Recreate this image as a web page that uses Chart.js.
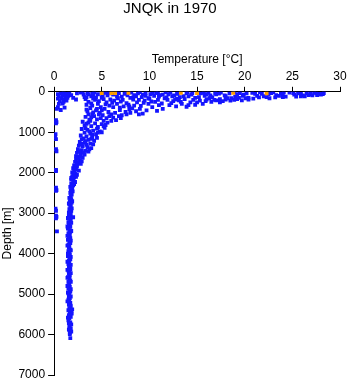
<!DOCTYPE html>
<html>
<head>
<meta charset="utf-8">
<title>JNQK in 1970</title>
<script src="https://cdn.jsdelivr.net/npm/chart.js@4.4.0/dist/chart.umd.min.js"></script>
<style>
  html, body { margin: 0; padding: 0; background: #fff; }
  #chartBox { width: 348px; height: 384px; }
</style>
</head>
<body>
<div id="chartBox"><canvas id="myChart" width="348" height="384"></canvas></div>
<script>
'use strict';

// tick labels
let tempTicks = [0, 5, 10, 15, 20, 25, 30];
let depthTicks = [0, 1000, 2000, 3000, 4000, 5000, 6000, 7000];

// [temperature degC, depth m]
let surfaceFlagged = [[5.0, 30], [6.0, 30], [6.4, 30], [7.8, 25], [13.3, 25], [15.0, 30], [18.8, 25], [22.3, 35]];

let mixedLayer = [
  [2.4, 40], [2.8, 20], [3.1, 70], [3.5, 30], [3.9, 110], [4.2, 20], [4.6, 60], [5.3, 25], [5.6, 90], [5.9, 40],
  [6.8, 30], [7.1, 120], [7.4, 50], [8.1, 20], [8.4, 80], [8.8, 40], [9.2, 130], [9.6, 25], [10.1, 60], [10.5, 100],
  [10.9, 30], [11.4, 70], [11.8, 140], [12.2, 20], [12.6, 90], [13.0, 40], [13.6, 110], [13.9, 30], [14.4, 70], [14.8, 150],
  [15.4, 40], [15.8, 100], [16.2, 25], [16.6, 130], [17.0, 60], [17.5, 20], [17.9, 90], [18.4, 40], [19.0, 120], [19.5, 30],
  [19.9, 70], [20.4, 150], [20.8, 25], [21.3, 100], [21.8, 50], [22.3, 130], [22.8, 30], [23.3, 80], [23.8, 40], [24.3, 120],
  [24.7, 20], [25.2, 70], [25.6, 40], [26.1, 90], [26.5, 30], [26.9, 60], [27.3, 20], [27.8, 50], [28.3, 30], [24.0, 60],
  [25.9, 110], [22.0, 110], [19.2, 60], [16.0, 60], [13.2, 130], [11.0, 120], [8.6, 110], [6.2, 70], [4.4, 140], [3.2, 130],
  [20.9, 170], [23.2, 140], [18.6, 160], [17.4, 180], [27.5, 40], [26.7, 80], [15.2, 130], [12.0, 60], [9.9, 160], [7.7, 90],
  [5.0, 50], [9.3, 70], [14.1, 110], [16.9, 30], [21.1, 50], [23.6, 100], [25.1, 30], [28.0, 70], [12.9, 170], [10.7, 20],
  [3.0, 10], [4.0, 45], [5.6, 15], [6.5, 45], [7.5, 15], [9.0, 10], [10.3, 40], [11.7, 15], [12.9, 50], [14.0, 10],
  [15.7, 20], [17.3, 45], [18.9, 10], [20.2, 35], [21.6, 15], [22.5, 55], [24.1, 15], [25.9, 50], [26.9, 20], [27.6, 80],
  [28.2, 55], [23.0, 10], [19.8, 100], [18.0, 110], [16.4, 90], [14.5, 40], [12.4, 110], [11.1, 80], [9.6, 100], [8.3, 140],
  [6.6, 120], [5.1, 100], [4.1, 80], [3.6, 60]
];

let upperThermocline = [
  [3.3, 180], [3.6, 250], [3.4, 320], [3.8, 400], [3.5, 480], [4.0, 550], [3.3, 620], [3.7, 690],
  [4.3, 200], [4.6, 300], [4.9, 380], [4.4, 460], [4.8, 520], [4.2, 600], [4.5, 680],
  [5.2, 180], [5.5, 260], [5.8, 340], [5.3, 420], [5.7, 500], [5.1, 580], [5.5, 650], [6.0, 720],
  [6.3, 220], [6.6, 300], [6.2, 380], [6.9, 450], [6.4, 520], [6.8, 600], [6.5, 700],
  [7.2, 200], [7.6, 280], [7.3, 360], [7.9, 430], [7.5, 500], [7.1, 580],
  [8.3, 190], [8.7, 260], [8.4, 340], [9.0, 420], [8.6, 480], [9.3, 540],
  [9.5, 220], [9.9, 300], [10.3, 380], [9.7, 460], [10.6, 250], [11.0, 330], [11.4, 420], [10.8, 470],
  [11.9, 200], [12.3, 280], [12.8, 360], [12.5, 230], [13.4, 300], [13.9, 370], [13.1, 210],
  [14.3, 260], [14.8, 320], [15.3, 220], [15.6, 300], [16.0, 190], [16.5, 250], [17.0, 210], [17.4, 260],
  [18.0, 190], [18.5, 220], [19.2, 180], [19.7, 210], [20.4, 190],
  [3.4, 140], [4.1, 170], [4.7, 230], [5.0, 150], [5.9, 190], [6.1, 270], [6.7, 160], [7.0, 240], [7.8, 320], [8.0, 150],
  [8.9, 200], [9.1, 350], [9.4, 270], [10.0, 170], [10.2, 240], [10.9, 200], [11.3, 290], [11.6, 160], [12.1, 330], [12.7, 190],
  [13.3, 250], [13.7, 180], [14.1, 330], [14.6, 200], [15.0, 260], [15.9, 230], [16.3, 160], [16.8, 200], [17.7, 230], [18.2, 160],
  [18.9, 200], [19.4, 150], [20.1, 160], [21.5, 140], [22.6, 160], [24.0, 130], [25.4, 120], [26.3, 110], [27.1, 90],
  [3.9, 290], [4.0, 340], [4.5, 420], [5.0, 460], [4.1, 510], [4.7, 560], [3.9, 630], [4.9, 650], [5.8, 600], [5.2, 720],
  [6.2, 640], [7.0, 650], [6.0, 560], [7.6, 560], [8.0, 520], [8.9, 560], [3.6, 560], [3.4, 440], [5.4, 310], [6.9, 390],
  [7.9, 360], [8.2, 410]
];

let lowerThermocline = [
  [3.0, 740], [3.6, 760], [4.3, 780], [5.0, 800], [5.6, 760], [3.2, 830], [3.9, 850], [4.6, 870], [5.3, 890],
  [2.9, 920], [3.5, 940], [4.1, 960], [4.8, 980], [3.2, 1010], [3.8, 1030], [4.4, 1050], [5.0, 1000],
  [2.8, 1080], [3.4, 1100], [4.0, 1120], [4.5, 1140], [2.9, 1170], [3.6, 1190], [4.2, 1210],
  [2.7, 1240], [3.2, 1260], [3.8, 1280], [4.1, 1300], [2.6, 1330], [3.0, 1350], [3.5, 1370], [3.9, 1390],
  [2.5, 1420], [2.9, 1440], [3.3, 1460], [3.6, 1480], [2.4, 1510], [2.8, 1530], [3.2, 1550],
  [2.3, 1590], [2.6, 1610], [3.0, 1630], [2.3, 1670], [2.7, 1690], [2.2, 1730], [2.5, 1760], [2.8, 1780],
  [2.1, 1820], [2.4, 1850], [2.0, 1890], [2.3, 1920], [2.6, 1950], [1.9, 1990], [2.2, 2020], [2.4, 2050],
  [1.9, 2090], [2.1, 2120], [1.8, 2170], [2.0, 2200], [2.2, 2230], [1.8, 2270], [2.0, 2310], [1.7, 2350],
  [1.9, 2390], [1.75, 2430], [1.95, 2460], [1.7, 2500], [1.85, 2540],
  [3.3, 900], [3.7, 980], [4.5, 910], [3.1, 1150], [3.9, 1160], [3.3, 1220], [2.9, 1290], [3.4, 1310], [3.7, 1420], [2.7, 1470],
  [3.1, 1500], [2.5, 1650], [2.8, 1600], [2.9, 1720], [2.4, 1800], [2.2, 1880], [2.1, 1960], [2.3, 2100], [2.0, 2050], [1.8, 2130],
  [2.1, 2280], [1.9, 2330], [4.0, 1060], [4.6, 1010], [5.2, 850], [5.4, 820], [3.4, 790], [3.8, 720]
];

let deepWater = [
  [1.75, 2580], [1.6, 2620], [1.8, 2660], [1.65, 2700], [1.85, 2740], [1.6, 2780], [1.75, 2820], [1.7, 2860],
  [1.6, 2900], [1.8, 2940], [1.65, 2980], [1.75, 3020], [1.55, 3060], [1.7, 3100], [2.0, 3100], [1.6, 3140],
  [1.75, 3180], [1.5, 3220], [1.65, 3260], [1.55, 3300], [1.7, 3340], [1.45, 3380], [1.6, 3420], [1.7, 3460],
  [1.5, 3500], [1.65, 3540], [1.55, 3580], [1.7, 3620], [1.45, 3660], [1.6, 3700], [1.7, 3740], [1.5, 3780],
  [1.6, 3820], [1.55, 3860], [1.7, 3900], [1.5, 3940], [1.6, 3980], [1.65, 4020], [1.45, 4060], [1.6, 4100],
  [1.7, 4140], [1.55, 4180], [1.6, 4220], [1.5, 4260], [1.65, 4300], [1.55, 4340], [1.7, 4380], [1.5, 4420],
  [1.6, 4460], [1.55, 4500], [1.65, 4540], [1.45, 4580], [1.6, 4620], [1.7, 4660], [1.5, 4700], [1.6, 4740],
  [1.55, 4780], [1.65, 4820], [1.5, 4860], [1.6, 4900], [1.7, 4940], [1.5, 4980], [1.6, 5020], [1.55, 5060],
  [1.65, 5100], [1.5, 5140], [1.6, 5180], [1.7, 5220], [1.55, 5260], [1.75, 5300], [1.6, 5350], [1.5, 5400],
  [1.8, 5420], [1.65, 5460], [1.55, 5520], [1.75, 5560], [1.6, 5600], [1.5, 5650], [1.7, 5700], [1.8, 5750],
  [1.6, 5800], [1.75, 5850], [1.55, 5880], [1.7, 5920], [1.65, 5960], [1.7, 6090],
  [1.45, 3120], [1.8, 3240], [1.4, 3330], [1.8, 3440], [1.4, 3560], [1.75, 3680], [1.4, 3800], [1.75, 3920],
  [1.45, 4000], [1.75, 4080], [1.4, 4200], [1.75, 4280], [1.4, 4400], [1.75, 4480], [1.4, 4600], [1.75, 4700],
  [1.4, 4800], [1.75, 4880], [1.45, 4960], [1.75, 5060], [1.4, 5180], [1.7, 5280], [1.85, 5480], [1.45, 5580],
  [1.65, 5760], [1.6, 5880], [1.8, 5930], [1.65, 5990], [1.9, 5380], [1.55, 5720], [1.7, 2620], [1.9, 2700],
  [1.55, 2760], [1.85, 2880], [1.55, 2990]
];

let shallowCold = [
  [0.4, 60], [0.7, 40], [1.0, 30], [1.3, 50], [1.6, 40], [0.5, 110], [0.9, 90], [1.2, 120], [1.5, 100], [1.8, 80],
  [0.4, 170], [0.8, 160], [1.1, 190], [1.4, 150], [0.6, 230], [1.0, 250], [1.3, 220], [0.5, 300], [0.9, 290],
  [0.4, 380], [1.1, 390], [0.7, 450], [0.3, 420], [2.0, 150], [2.3, 190]
];

let coldColumn = [
  [0.2, 700], [0.25, 750], [0.2, 780], [0.15, 1050], [0.1, 1120], [0.2, 1170], [0.2, 1420], [0.25, 1470],
  [0.2, 1930], [0.2, 1960], [0.2, 2370], [0.25, 2430], [0.2, 2450], [0.15, 2890], [0.2, 2940], [0.2, 3060],
  [0.25, 3090], [0.2, 3130], [0.3, 3450]
];

function toPoints(list) {
  return list.map(function (p) { return { x: p[0], y: p[1] }; });
}

let bluePoints = toPoints(mixedLayer.concat(upperThermocline, lowerThermocline, deepWater, shallowCold, coldColumn));
let orangePoints = toPoints(surfaceFlagged);

let fontFamily = "'Liberation Sans', Arial, sans-serif";

let ctx = document.getElementById('myChart').getContext('2d');
let chart = new Chart(ctx, {
  type: 'scatter',
  data: {
    datasets: [{
      label: 'flagged',
      data: orangePoints,
      backgroundColor: '#ff9f00',
      pointStyle: 'rect',
      pointRadius: 2.7,
      borderWidth: 0,
      order: 0
    }, {
      label: 'JNQK',
      data: bluePoints,
      backgroundColor: '#1414ff',
      pointStyle: 'rect',
      pointRadius: 2.7,
      borderWidth: 0,
      order: 1
    }]
  },
  options: {
    responsive: false,
    animation: false,
    layout: { padding: { left: 0, right: 8, top: 0, bottom: 9 } },
    plugins: {
      legend: { display: false },
      tooltip: { enabled: false },
      title: {
        display: true,
        text: 'JNQK in 1970',
        color: '#000',
        font: { family: fontFamily, size: 15, weight: 'normal' },
        padding: { top: 0, bottom: 30 }
      }
    },
    scales: {
      x: {
        type: 'linear',
        position: 'top',
        min: 0,
        max: 30,
        afterBuildTicks: function (axis) { axis.ticks = tempTicks.map(function (v) { return { value: v }; }); },
        afterFit: function (axis) { axis.paddingLeft = 0; axis.paddingRight = 0; },
        ticks: { color: '#000', font: { family: fontFamily, size: 12 }, padding: 3, maxRotation: 0 },
        grid: { drawOnChartArea: false, tickLength: 5, color: '#000' },
        border: { color: '#000', width: 1 },
        title: { display: true, text: 'Temperature [°C]', color: '#000', font: { family: fontFamily, size: 12 }, padding: { top: 4, bottom: 0 } }
      },
      y: {
        type: 'linear',
        reverse: true,
        min: 0,
        max: 7000,
        afterBuildTicks: function (axis) { axis.ticks = depthTicks.map(function (v) { return { value: v }; }); },
        afterFit: function (axis) { axis.paddingTop = 0; axis.paddingBottom = 0; },
        ticks: { color: '#000', font: { family: fontFamily, size: 12 }, padding: 3, callback: function (v) { return String(v); } },
        grid: { drawOnChartArea: false, tickLength: 6, color: '#000' },
        border: { color: '#000', width: 1 },
        title: { display: true, text: 'Depth [m]', color: '#000', font: { family: fontFamily, size: 12 }, padding: { top: 0, bottom: 1 } }
      }
    }
  }
});
</script>
</body>
</html>
